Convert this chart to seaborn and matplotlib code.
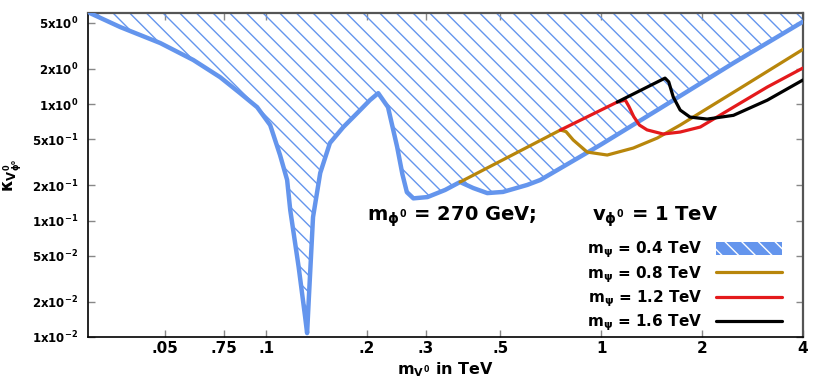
import numpy as np
import pandas as pd
import matplotlib
matplotlib.use('Agg')
import matplotlib.pyplot as plt
import seaborn as sns
from matplotlib.patches import Patch
from matplotlib.lines import Line2D

# 曲线数据 (m_V0 in TeV, kappa)
blue_x = [0.0298, 0.0367, 0.0483, 0.0606, 0.0729, 0.0836, 0.094, 0.1028, 0.110, 0.1155,
          0.118, 0.125, 0.1307, 0.1325, 0.134, 0.138, 0.145, 0.155, 0.170, 0.187,
          0.204, 0.216, 0.231, 0.246, 0.255, 0.263, 0.275, 0.303, 0.342, 0.379, 0.415,
          0.457, 0.509, 0.601, 0.658, 0.993, 1.50, 2.48, 4.0]
blue_y = [6.04, 4.58, 3.34, 2.39, 1.70, 1.24, 0.94, 0.66, 0.365, 0.223,
          0.123, 0.040, 0.0149, 0.0108, 0.0208, 0.107, 0.256, 0.463, 0.635, 0.837,
          1.08, 1.24, 0.94, 0.428, 0.25, 0.175, 0.155, 0.159, 0.183, 0.214, 0.190,
          0.172, 0.176, 0.202, 0.223, 0.445, 0.92, 2.25, 5.1]

gold_x = [0.379, 0.755, 0.785, 0.825, 0.908, 1.042, 1.246, 1.47, 1.72, 2.60, 4.0]
gold_y = [0.214, 0.598, 0.58, 0.491, 0.387, 0.365, 0.419, 0.511, 0.66, 1.37, 2.95]

red_x = [0.755, 1.116, 1.18, 1.21, 1.25, 1.30, 1.37, 1.53, 1.72, 1.975, 2.48, 3.13, 4.0]
red_y = [0.598, 1.04, 1.08, 0.95, 0.78, 0.66, 0.60, 0.553, 0.575, 0.635, 0.94, 1.40, 2.04]

black_x = [1.116, 1.55, 1.59, 1.64, 1.72, 1.84, 2.07, 2.48, 3.13, 4.0]
black_y = [1.04, 1.67, 1.55, 1.15, 0.888, 0.773, 0.743, 0.80, 1.08, 1.61]

labels = ['0.4', '0.8', '1.2', '1.6']

xticks = [0.05, 0.075, 0.1, 0.2, 0.3, 0.5, 1, 2, 4]
xtick_labels = ['.05', '.75', '.1', '.2', '.3', '.5', '1', '2', '4']
yticks = [0.01, 0.02, 0.05, 0.1, 0.2, 0.5, 1, 2, 5]
ytick_labels = ['1x10$^{-2}$', '2x10$^{-2}$', '5x10$^{-2}$', '1x10$^{-1}$', '2x10$^{-1}$',
                '5x10$^{-1}$', '1x10$^{0}$', '2x10$^{0}$', '5x10$^{0}$']

# 颜色
c_blue = '#6495ED'
c_gold = '#B8860B'
c_red = '#E41A1C'
c_black = 'black'

sns.set_theme(style='ticks')
plt.rcParams['font.family'] = ['DejaVu Sans']
plt.rcParams['font.weight'] = 'bold'
plt.rcParams['text.color'] = 'black'
plt.rcParams['axes.labelcolor'] = 'black'
plt.rcParams['xtick.labelcolor'] = 'black'
plt.rcParams['ytick.labelcolor'] = 'black'
plt.rcParams['mathtext.fontset'] = 'custom'
plt.rcParams['mathtext.rm'] = 'DejaVu Sans:bold'
plt.rcParams['mathtext.it'] = 'DejaVu Sans:bold'
plt.rcParams['mathtext.bf'] = 'DejaVu Sans:bold'
plt.rcParams['mathtext.sf'] = 'DejaVu Sans'
plt.rcParams['hatch.linewidth'] = 1.0

fig = plt.figure(figsize=(8.3, 3.82), dpi=100)
ax = fig.add_axes([88/830, 45/382, 715/830, 324/382])

ax.set_xscale('log')
ax.set_yscale('log')
ax.set_xlim(0.0294, 4)
ax.set_ylim(0.01, 6.05)

# 阴影区域
top = ax.get_ylim()[1]
ax.fill_between(blue_x, blue_y, top, facecolor='none', edgecolor=c_blue,
                hatch='\\\\', linewidth=0, zorder=1)

df_blue = pd.DataFrame({'x': blue_x, 'y': blue_y})
sns.lineplot(data=df_blue, x='x', y='y', color=c_blue, lw=3.2, ax=ax,
             estimator=None, zorder=3)
sns.lineplot(x=gold_x, y=gold_y, color=c_gold, lw=2.3, ax=ax, estimator=None, zorder=4)
sns.lineplot(x=red_x, y=red_y, color=c_red, lw=2.3, ax=ax, estimator=None, zorder=5)
sns.lineplot(x=black_x, y=black_y, color=c_black, lw=2.3, ax=ax, estimator=None, zorder=6)

ax.set_xticks(xticks)
ax.set_xticklabels(xtick_labels, fontsize=11, fontweight='bold')
ax.set_yticks(yticks)
ax.set_yticklabels(ytick_labels, fontsize=8.5, fontweight='bold')
ax.minorticks_off()
ax.tick_params(which='both', direction='in', length=5, color='#888888',
               top=True, right=True, width=1)
ax.tick_params(axis='x', pad=3)
ax.tick_params(axis='y', pad=7)

for s in ['left', 'bottom']:
    ax.spines[s].set_color('black')
    ax.spines[s].set_linewidth(1.2)
for s in ['top', 'right']:
    ax.spines[s].set_color('#555555')
    ax.spines[s].set_linewidth(1.6)

ax.set_xlabel(r'm$_{V^0}$ in TeV', fontsize=11.5, fontweight='bold')
ax.xaxis.set_label_coords(0.5, -0.072)
ax.set_ylabel(r'$\mathsf{\kappa_{V^0_{\phi^0}}}$', fontsize=12)
ax.yaxis.set_label_coords(-0.09, 0.5)

# 参数标注
ax.text(0.39, 0.37, r'm$_{\phi^0}$ = 270 GeV;', transform=ax.transAxes,
        fontsize=14, fontweight='bold', va='center', ha='left')
ax.text(0.705, 0.37, r'v$_{\phi^0}$ = 1 TeV', transform=ax.transAxes,
        fontsize=14, fontweight='bold', va='center', ha='left')

# 图例
handles = [
    Patch(facecolor=c_blue, edgecolor='white', hatch='\\\\', linewidth=0),
    Line2D([], [], color=c_gold, lw=2.3),
    Line2D([], [], color=c_red, lw=2.3),
    Line2D([], [], color=c_black, lw=2.3),
]
leg_labels = [r'm$_{\psi}$ = ' + l + ' TeV' for l in labels]
ax.legend(handles, leg_labels, loc='lower right', bbox_to_anchor=(0.985, -0.022),
          frameon=False, markerfirst=False, handlelength=4.3,
          handleheight=0.9, labelspacing=0.25, handletextpad=0.9, borderpad=0.2,
          prop={'weight': 'bold', 'size': 11})

fig.savefig('out.png', dpi=100)
